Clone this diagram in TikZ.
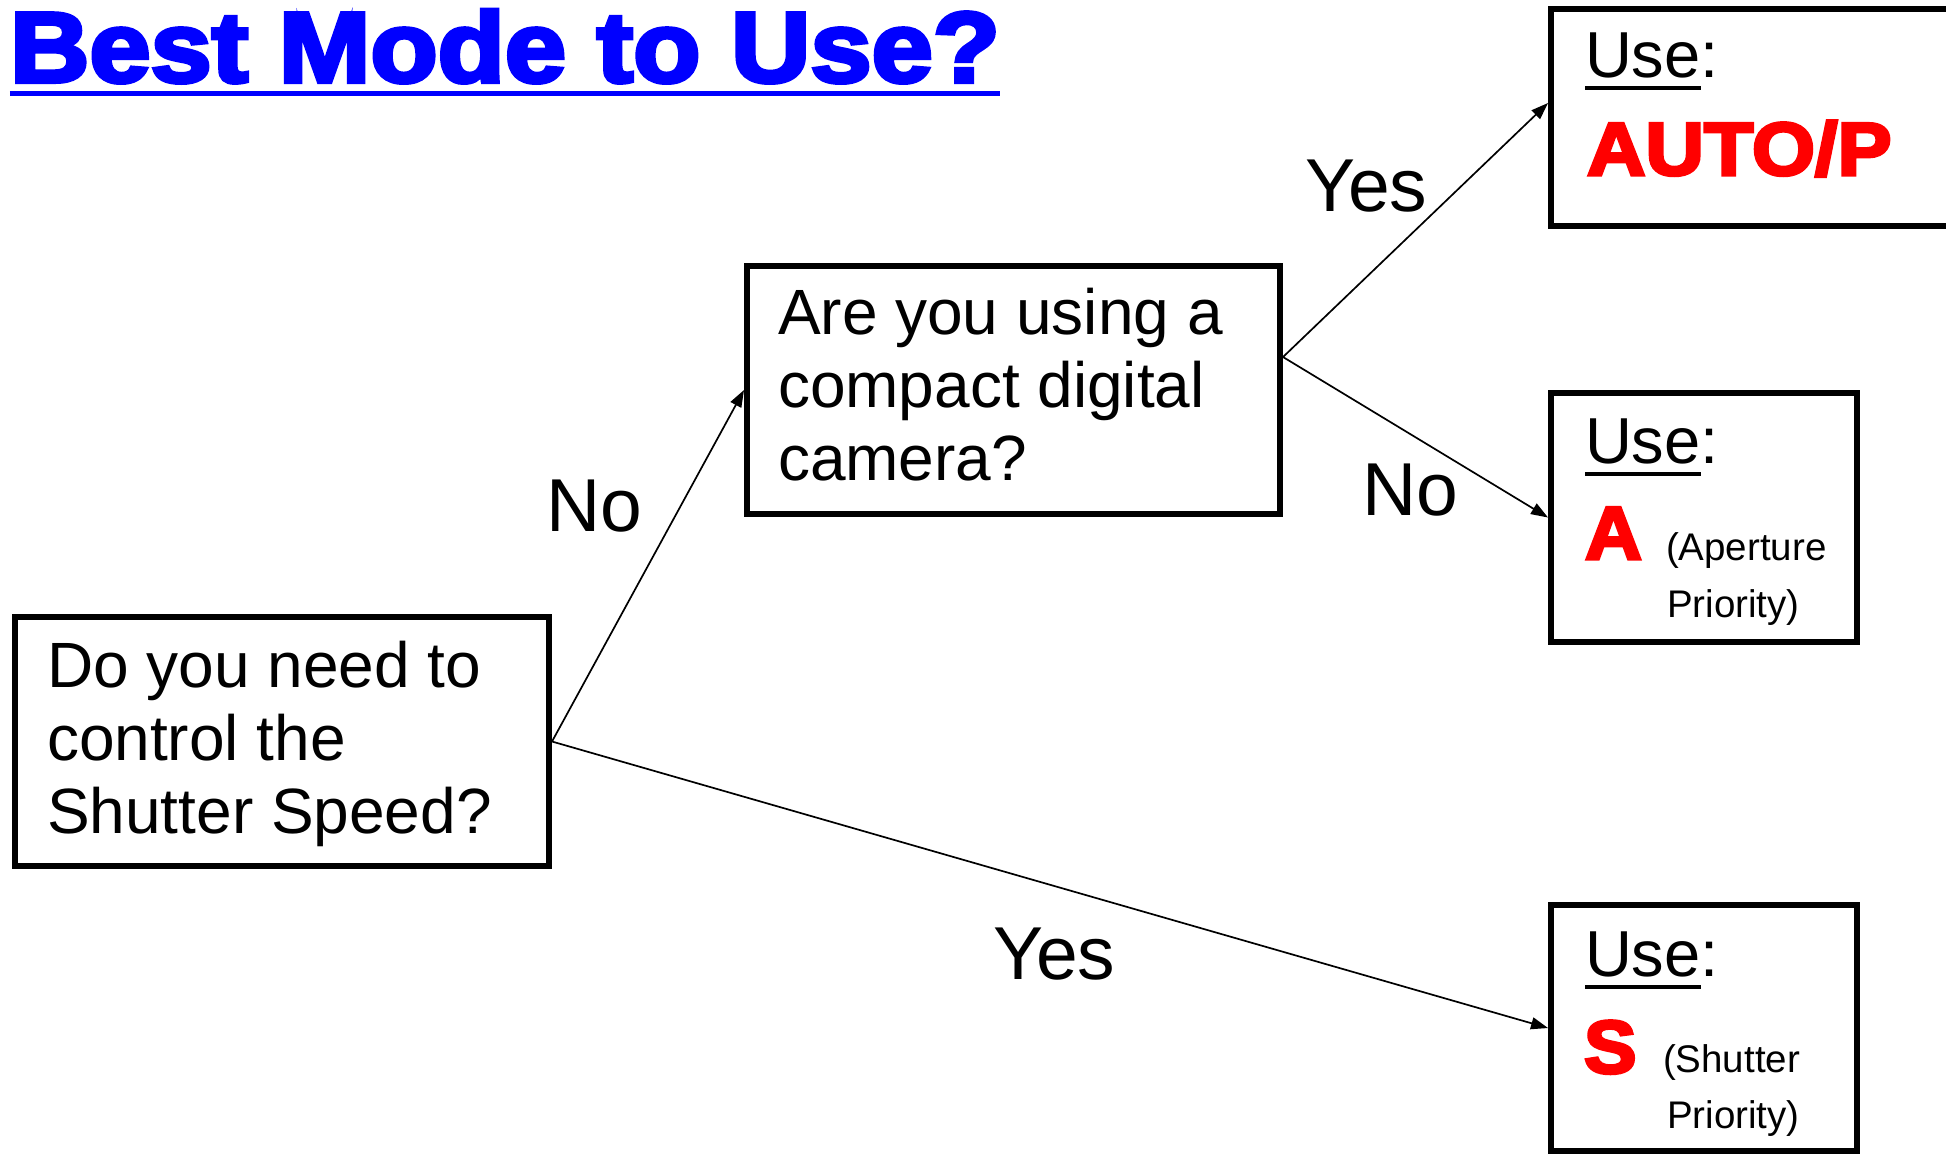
\documentclass[tikz,border=0pt]{standalone}
\usepackage{fontspec}
\setmainfont{Liberation Sans}
\newfontfamily\heavyfont{Liberation Sans Bold}[FakeBold=4]
\usetikzlibrary{arrows.meta}
\definecolor{titleblue}{RGB}{0,0,255}
\definecolor{modered}{RGB}{255,0,0}
% underline a word: #1 = offset of the rule's bottom below the baseline, #2 = thickness
\newcommand\ulword[3]{\setbox0\hbox{#3}\rlap{\rule[-#1]{\wd0}{#2}}\box0}
\begin{document}
\begin{tikzpicture}[x=0.5pt,y=-0.5pt,
  frame/.style={draw=black, line width=3pt, rectangle, inner sep=0pt},
  txt/.style={inner sep=0pt, outer sep=0pt, anchor=base west},
  question/.style={txt, font=\fontsize{32pt}{36.5pt}\selectfont},
  answer/.style={txt, font=\fontsize{37.5pt}{40pt}\selectfont},
  usehead/.style={txt, font=\fontsize{32.5pt}{36pt}\selectfont},
  modeletter/.style={txt, text=modered, font=\heavyfont\fontsize{37.5pt}{40pt}\selectfont},
  modenote/.style={txt, font=\fontsize{19.25pt}{22pt}\selectfont},
  conn/.style={draw=black, line width=0.85pt, -{Triangle[length=8.5pt,width=6pt]}}]
\useasboundingbox (0,0) rectangle (1946,1153);
\clip (0,0) rectangle (1946,1153);
\fill[white] (0,0) rectangle (1946,1153);

% title
\node[txt, text=titleblue, font=\heavyfont\fontsize{50pt}{56pt}\selectfont] (title) at (10,82)
  {\scalebox{1.1}[1]{\ulword{7pt}{2.5pt}{Best Mode to Use?}}};

% question boxes
\node[frame, minimum width=267pt, minimum height=124.5pt] (q1) at (282,741.5) {};
\node[frame, minimum width=266.5pt, minimum height=124pt] (q2) at (1013.5,390) {};
\node[question] (q1text) at (47,687)
  {\parbox[t]{260pt}{\raggedright Do you need to\\control the\\Shutter Speed?}};
\node[question] (q2text) at (778,334)
  {\parbox[t]{260pt}{\raggedright Are you using a\\compact digital\\camera?}};

% answer boxes
\node[frame, minimum width=224.5pt, minimum height=108.5pt] (auto) at (1775.5,117.5) {};
\node[frame, minimum width=153pt, minimum height=124.5pt] (aprio) at (1704,517.5) {};
\node[frame, minimum width=153pt, minimum height=123pt] (sprio) at (1704,1028) {};

\node[usehead] (use1) at (1585,77) {\ulword{6.5pt}{2pt}{Use}:};
\node[modeletter] (modeauto) at (1587,175) {\scalebox{1.08}[1]{AUTO/P}};

\node[usehead] (use2) at (1585,463) {\ulword{6.5pt}{2pt}{Use}:};
\node[modeletter] (modea) at (1585,559) {\scalebox{1.05}[1]{A}};
\node[modenote] (notea1) at (1666,560) {(Aperture};
\node[modenote] (notea2) at (1667,617) {Priority)};

\node[usehead] (use3) at (1585,976) {\ulword{6.5pt}{2pt}{Use}:};
\node[modeletter] (modes) at (1584,1073) {\scalebox{1.05}[1]{S}};
\node[modenote] (notes1) at (1663,1072) {(Shutter};
\node[modenote] (notes2) at (1667,1128) {Priority)};

% connectors
\draw[conn] (q1.east) -- (q2.west);
\draw[conn] (q1.east) -- (sprio.west);
\draw[conn] ([yshift=16.5pt]q2.east) -- ([yshift=7.25pt]auto.west);
\draw[conn] ([yshift=16.5pt]q2.east) -- (aprio.west);

% branch labels
\node[answer] (lno1) at (546,531) {No};
\node[answer] (lyes1) at (993,979) {Yes};
\node[answer] (lyes2) at (1305,211) {Yes};
\node[answer] (lno2) at (1362,515) {No};
\end{tikzpicture}
\end{document}
